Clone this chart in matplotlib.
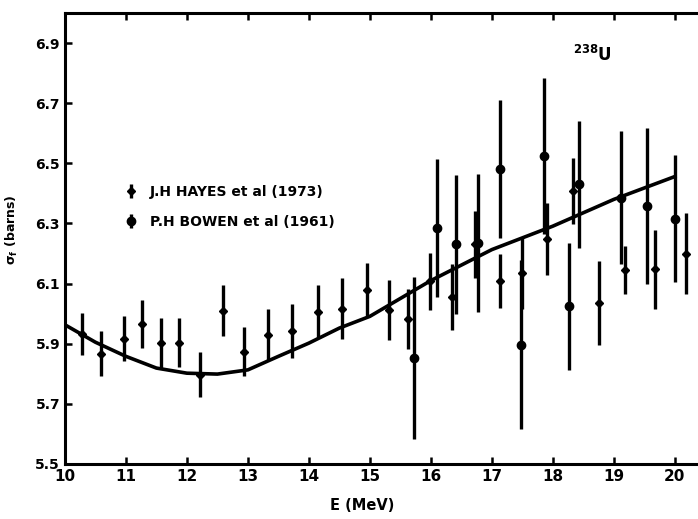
import matplotlib
matplotlib.use("Agg")
import matplotlib.pyplot as plt

# J.H. Hayes et al (1973) - small error bars
hayes_e = [10.28, 10.59, 10.97, 11.27, 11.57, 11.87, 12.21, 12.60, 12.93, 13.33,
           13.72, 14.15, 14.55, 14.96, 15.32, 15.62, 15.98, 16.35, 16.72, 17.13,
           17.50, 17.90, 18.33, 18.76, 19.19, 19.67, 20.18]
hayes_s = [5.933, 5.867, 5.917, 5.967, 5.902, 5.904, 5.797, 6.010, 5.874, 5.930,
           5.941, 6.006, 6.017, 6.080, 6.011, 5.982, 6.108, 6.056, 6.230, 6.108,
           6.136, 6.247, 6.408, 6.036, 6.144, 6.147, 6.199]
hayes_err = [0.070, 0.075, 0.075, 0.080, 0.083, 0.080, 0.075, 0.085, 0.080, 0.085,
             0.090, 0.088, 0.100, 0.090, 0.100, 0.100, 0.095, 0.110, 0.110, 0.090,
             0.120, 0.120, 0.110, 0.140, 0.080, 0.130, 0.135]

# P.H. Bowen et al (1961) - large error bars
bowen_e = [15.73, 16.10, 16.42, 16.78, 17.14, 17.47, 17.86, 18.27, 18.43, 19.11, 19.54, 20.01]
bowen_s = [5.852, 6.286, 6.230, 6.236, 6.480, 5.897, 6.524, 6.024, 6.430, 6.386, 6.358, 6.316]
bowen_err = [0.27, 0.23, 0.23, 0.23, 0.23, 0.28, 0.26, 0.21, 0.21, 0.22, 0.26, 0.21]

# fitted curve
curve_e = [10.0, 10.5, 11.0, 11.5, 12.0, 12.5, 13.0, 13.5, 14.0, 14.5, 15.0,
           16.0, 17.0, 18.0, 19.0, 20.0]
curve_s = [5.963, 5.905, 5.858, 5.819, 5.802, 5.799, 5.813, 5.858, 5.902, 5.952, 5.991,
           6.110, 6.213, 6.291, 6.380, 6.456]

x_ticks = [10, 11, 12, 13, 14, 15, 16, 17, 18, 19, 20]
y_ticks = [5.5, 5.7, 5.9, 6.1, 6.3, 6.5, 6.7, 6.9]

plt.rcParams['font.family'] = ['DejaVu Sans']
plt.rcParams['font.weight'] = 'bold'

fig = plt.figure(figsize=(6.98, 5.19), dpi=100)
ax = fig.add_axes([0.093, 0.106, 0.907, 0.869])

ax.plot(curve_e, curve_s, color='black', lw=2.6, zorder=2)

ax.errorbar(hayes_e, hayes_s, yerr=hayes_err, fmt='D', ms=4, color='black',
            elinewidth=2.4, capsize=0, label='J.H HAYES et al (1973)', zorder=3)
ax.errorbar(bowen_e, bowen_s, yerr=bowen_err, fmt='o', ms=6, color='black',
            elinewidth=2.4, capsize=0, label='P.H BOWEN et al (1961)', zorder=3)

ax.set_xlim(10, 20.38)
ax.set_ylim(5.5, 7.0)
ax.set_xticks(x_ticks)
ax.set_yticks(y_ticks)
ax.set_yticklabels([f"{v:.1f}" for v in y_ticks])
ax.tick_params(direction='in', length=5, width=1.8, top=True, right=False)
ax.tick_params(axis='x', labelsize=11)
ax.tick_params(axis='y', labelsize=10)
for lab in ax.get_xticklabels() + ax.get_yticklabels():
    lab.set_fontweight('bold')

for side in ['left', 'bottom', 'top']:
    ax.spines[side].set_linewidth(2.2)
ax.spines['right'].set_visible(False)

ax.set_xlabel('E (MeV)', fontsize=10.5, fontweight='bold')
ax.xaxis.set_label_coords(0.47, -0.075)
ax.set_ylabel(r'$\mathbf{\sigma_f}$ (barns)', fontsize=9, fontweight='bold')
ax.yaxis.set_label_coords(-0.071, 0.52)

ax.text(18.33, 6.86, r'$^{\mathbf{238}}$U', fontsize=12, fontweight='bold',
        va='center', ha='left')

leg = ax.legend(loc='center left', bbox_to_anchor=(0.093, 0.57), frameon=False,
                handlelength=1.0, handletextpad=0.9, labelspacing=1.2,
                borderpad=0, borderaxespad=0,
                prop={'size': 10, 'weight': 'bold'})

plt.savefig('out.png', dpi=100)
